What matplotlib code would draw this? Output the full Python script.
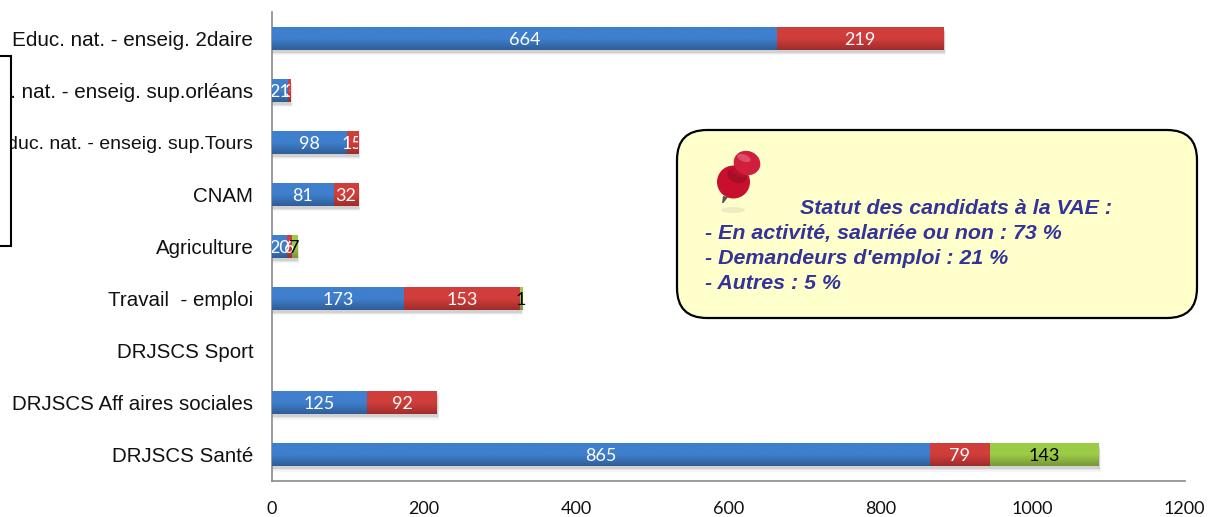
"""Barres empilées VAE par certificateur, avec encart de statut."""
import matplotlib
matplotlib.use("Agg")
import matplotlib.pyplot as plt
import numpy as np
from matplotlib.colors import LinearSegmentedColormap
from matplotlib.patches import Circle, Ellipse, FancyBboxPatch, Polygon, Rectangle
from matplotlib.transforms import Bbox, TransformedBbox

categories = [
    "Educ. nat. - enseig. 2daire",
    "Educ. nat. - enseig. sup.orléans",
    "Educ. nat. - enseig. sup.Tours",
    "CNAM",
    "Agriculture",
    "Travail  - emploi",
    "DRJSCS Sport",
    "DRJSCS Aff aires sociales",
    "DRJSCS Santé",
]
blue_values = [664, 21, 98, 81, 20, 173, 0, 125, 865]
red_values = [219, 3, 15, 32, 6, 153, 0, 92, 79]
green_values = [0, 0, 0, 0, 7, 1, 0, 0, 143]
x_ticks = [0, 200, 400, 600, 800, 1000, 1200]
note_title = "Statut des candidats à la VAE :"
note_lines = [
    "- En activité, salariée ou non : 73 %",
    "- Demandeurs d'emploi : 21 %",
    "- Autres : 5 %",
]

W, H = 1209, 517
fig = plt.figure(figsize=(W / 100, H / 100), dpi=100, facecolor="white")
ax = fig.add_axes([272 / W, 1 - 481 / H, 912.5 / W, 468.5 / H])

series = [
    (blue_values, "#3f7fcd", "#2f5e98", "white", True),
    (red_values, "#d03e3b", "#9f2d2b", "white", True),
    (green_values, "#9ccb46", "#76983a", "black", False),
]
y = np.arange(len(categories))
bar_h = 0.44
totals = np.sum([s[0] for s in series], axis=0)

# ombre portée sous les barres
for off, a in [(0.10, 0.04), (0.075, 0.06), (0.05, 0.09)]:
    ax.barh(y + off, np.where(totals > 0, totals + off * 30, 0), height=bar_h,
            color="black", alpha=a, lw=0, zorder=1)

left = np.zeros(len(categories))
for values, top_col, bot_col, txt_col, clip in series:
    vals = np.array(values, dtype=float)
    bars = ax.barh(y, vals, left=left, height=bar_h, color=top_col, lw=0, zorder=2)
    cmap = LinearSegmentedColormap.from_list("g", [top_col, top_col, bot_col])
    for b, v, yy in zip(bars, vals, y):
        if v == 0:
            continue
        x0, y0 = b.get_x(), b.get_y()
        # largeur mini pour que le segment de 1 reste visible
        ax.imshow(np.linspace(0, 1, 40).reshape(-1, 1), cmap=cmap, aspect="auto",
                  extent=(x0, x0 + max(v, 3), y0 + bar_h, y0), zorder=3, interpolation="bilinear")
        t = ax.text(x0 + v / 2, yy + 0.02, f"{int(v)}", color=txt_col, ha="center", va="center",
                    family="Lato", fontsize=13, zorder=5)
        if clip:
            # les étiquettes sont coupées à la fin de la barre
            box = Bbox([[0, yy - bar_h / 2], [totals[yy], yy + bar_h / 2]])
            t.set_clip_box(TransformedBbox(box, ax.transData))
            t.set_clip_on(True)
    left += vals

ax.set_xlim(0, 1200)
ax.set_ylim(len(categories) - 0.5, -0.5)
ax.set_xticks(x_ticks)
ax.set_yticks(y)
ax.set_yticklabels(categories, family="Liberation Sans", fontsize=14.8, color="#111111")
# largeurs un peu différentes selon les libellés dans l'original
ax.get_yticklabels()[0].set_fontsize(14.9)
ax.get_yticklabels()[1].set_fontsize(14.9)
ax.get_yticklabels()[2].set_fontsize(14.0)
ax.tick_params(axis="y", length=0, pad=13.5)
ax.tick_params(axis="x", length=0, pad=14.5, labelsize=13)
for lab in ax.get_xticklabels():
    lab.set_family("Lato")
    lab.set_color("#111111")
for s in ["top", "right"]:
    ax.spines[s].set_visible(False)
for s in ["left", "bottom"]:
    ax.spines[s].set_color("#8a8a8a")
    ax.spines[s].set_linewidth(1.2)

# calque en pixels pour l'encart, le crochet et la punaise
ov = fig.add_axes([0, 0, 1, 1], zorder=10)
ov.set_xlim(0, W)
ov.set_ylim(H, 0)
ov.axis("off")
ov.patch.set_alpha(0)

ov.add_patch(Rectangle((-5, 55.5), 16, 190, fc="white", ec="black", lw=1.5))

ov.add_patch(FancyBboxPatch((677 + 30, 130 + 30), 520 - 60, 188 - 60,
                            boxstyle="round,pad=30,rounding_size=30",
                            fc="#ffffcc", ec="black", lw=1.6))

# punaise
ov.add_patch(Ellipse((733, 210), 24, 6, fc="#eeebbe", ec="none"))
ov.add_patch(Polygon([[723, 196], [728, 197], [723.5, 203], [722, 203]], fc="#555555", ec="none"))
ov.add_patch(Circle((733.5, 182), 16.5, fc="#c8102e", ec="none"))
ov.add_patch(Ellipse((737, 176), 20, 14, angle=20, fc="#a80d27", ec="none"))
ov.add_patch(Polygon([[731, 172], [743, 178], [754, 160], [740, 152]], fc="#b80f2b", ec="none"))
ov.add_patch(Ellipse((747, 163), 27, 24, angle=20, fc="#cf1f3d", ec="none"))
ov.add_patch(Ellipse((744, 158), 14, 7, angle=20, fc="#dd4f66", ec="none"))

note_font = dict(family="Liberation Sans", weight="bold", style="italic",
                 color="#333399", fontsize=15.4, va="center", ha="left")
ov.text(800, 209, note_title, **note_font)
for i, line in enumerate(note_lines):
    ov.text(705, 233.5 + 25 * i, line, **note_font)

fig.savefig("out.png", dpi=100)
